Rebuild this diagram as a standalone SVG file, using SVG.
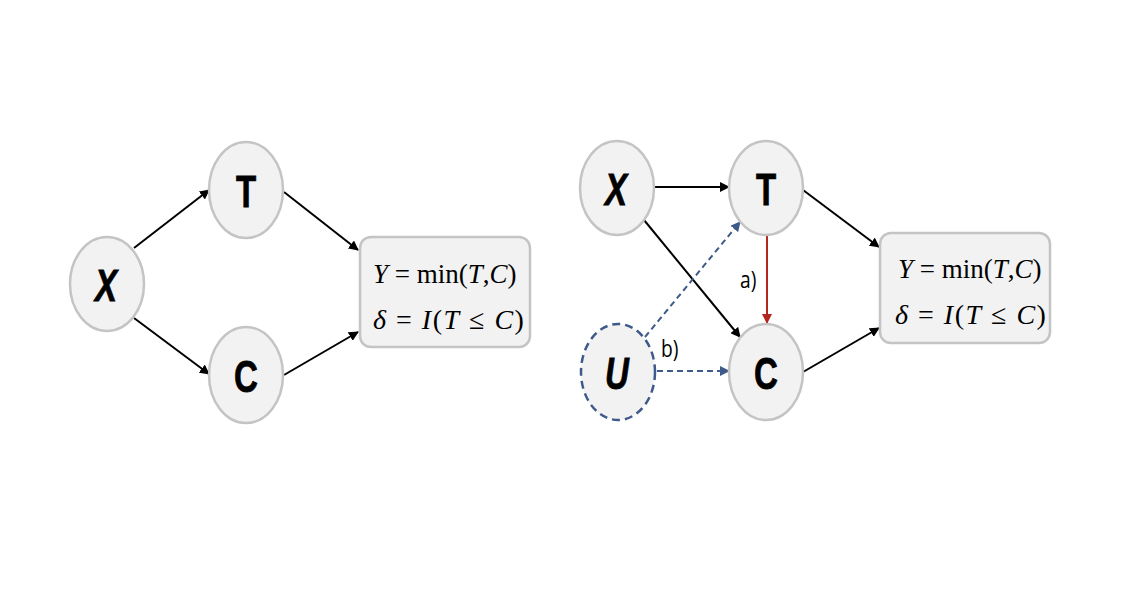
<svg xmlns="http://www.w3.org/2000/svg" width="1125" height="600" viewBox="0 0 1125 600">
<style>
.node{fill:#f2f2f2;stroke:#c4c4c4;stroke-width:2.5}
.unode{fill:#f2f2f2;stroke:#3d5a8a;stroke-width:2.5;stroke-dasharray:8 5}
.lbl{font-family:"Liberation Sans",Arial,sans-serif;font-weight:bold;font-size:44px;fill:#000;stroke:#000;stroke-width:0.8;text-anchor:middle}
.it{font-style:italic}
.eq{font-family:"Liberation Serif","Times New Roman",serif;font-size:27px;fill:#000}
.eq2{font-family:"Liberation Serif","Times New Roman",serif;font-size:28px;letter-spacing:1.5px;fill:#000}
.e{stroke:#000;stroke-width:2;fill:none}
.red{stroke:#b3261e;stroke-width:2;fill:none}
.dash{stroke:#3d5a8a;stroke-width:2;stroke-dasharray:6 4;fill:none}
.tag{font-family:"Open Sans","Liberation Sans",sans-serif;font-size:24px;fill:#000}
</style>
<defs>
<marker id="ab" viewBox="0 0 10 10" refX="9" refY="5" markerWidth="5" markerHeight="5" orient="auto"><path d="M0,0 L10,5 L0,10 z" fill="#000"/></marker>
<marker id="ar" viewBox="0 0 10 10" refX="9" refY="5" markerWidth="5" markerHeight="5" orient="auto"><path d="M0,0 L10,5 L0,10 z" fill="#b3261e"/></marker>
<marker id="au" viewBox="0 0 10 10" refX="9" refY="5" markerWidth="5" markerHeight="5" orient="auto"><path d="M0,0 L10,5 L0,10 z" fill="#3d5a8a"/></marker>
</defs>
<rect width="1125" height="600" fill="#fff"/>
<g id="connectors">
<line class="e" x1="134" y1="248" x2="209" y2="190" marker-end="url(#ab)"/>
<line class="e" x1="134" y1="318" x2="209" y2="374" marker-end="url(#ab)"/>
<line class="e" x1="284" y1="192" x2="358" y2="250" marker-end="url(#ab)"/>
<line class="e" x1="284" y1="375" x2="358" y2="332" marker-end="url(#ab)"/>
<line class="e" x1="655" y1="187" x2="729" y2="187" marker-end="url(#ab)"/>
<line class="e" x1="644" y1="220" x2="740" y2="337" marker-end="url(#ab)"/>
<line class="e" x1="803" y1="190" x2="879" y2="247" marker-end="url(#ab)"/>
<line class="e" x1="803" y1="372" x2="879" y2="328" marker-end="url(#ab)"/>
<line class="red" x1="767" y1="235" x2="767" y2="323" marker-end="url(#ar)"/>
<line class="dash" x1="645" y1="337" x2="740" y2="222" marker-end="url(#au)"/>
<line class="dash" x1="657" y1="371" x2="729" y2="371" marker-end="url(#au)"/>
</g>
<g id="L-X"><ellipse class="node" cx="107" cy="284" rx="37" ry="47"/><text class="lbl it" transform="translate(106,301) scale(0.75,1)">X</text></g>
<g id="L-T"><ellipse class="node" cx="246" cy="190" rx="37" ry="48"/><text class="lbl" transform="translate(246,207) scale(0.75,1)">T</text></g>
<g id="L-C"><ellipse class="node" cx="246" cy="375" rx="37" ry="48"/><text class="lbl" transform="translate(246,392) scale(0.75,1)">C</text></g>
<g id="L-Y"><rect class="node" x="360" y="237" width="170" height="110" rx="11"/>
<text class="eq" x="373" y="283"><tspan font-style="italic">Y</tspan> = min(<tspan font-style="italic">T</tspan>,<tspan font-style="italic">C</tspan>)</text>
<text class="eq2" x="373" y="329"><tspan font-style="italic">δ</tspan> = <tspan font-style="italic">I</tspan>(<tspan font-style="italic">T</tspan> ≤ <tspan font-style="italic">C</tspan>)</text></g>
<g id="R-X"><ellipse class="node" cx="617" cy="188" rx="37" ry="47"/><text class="lbl it" transform="translate(616,205) scale(0.75,1)">X</text></g>
<g id="R-T"><ellipse class="node" cx="766" cy="188" rx="37" ry="47"/><text class="lbl" transform="translate(766,205) scale(0.75,1)">T</text></g>
<g id="R-C"><ellipse class="node" cx="766" cy="372" rx="37" ry="48"/><text class="lbl" transform="translate(766,389) scale(0.75,1)">C</text></g>
<g id="R-U"><ellipse class="unode" cx="618" cy="372" rx="37" ry="48"/><text class="lbl it" transform="translate(617,389) scale(0.75,1)">U</text></g>
<g id="R-Y"><rect class="node" x="880" y="233" width="170" height="110" rx="11"/>
<text class="eq" x="898" y="278"><tspan font-style="italic">Y</tspan> = min(<tspan font-style="italic">T</tspan>,<tspan font-style="italic">C</tspan>)</text>
<text class="eq2" x="895" y="324"><tspan font-style="italic">δ</tspan> = <tspan font-style="italic">I</tspan>(<tspan font-style="italic">T</tspan> ≤ <tspan font-style="italic">C</tspan>)</text></g>
<g id="labels">
<text class="tag" transform="translate(740,288) scale(0.8,1)">a)</text>
<text class="tag" transform="translate(661,357) scale(0.8,1)">b)</text>
</g>
</svg>
